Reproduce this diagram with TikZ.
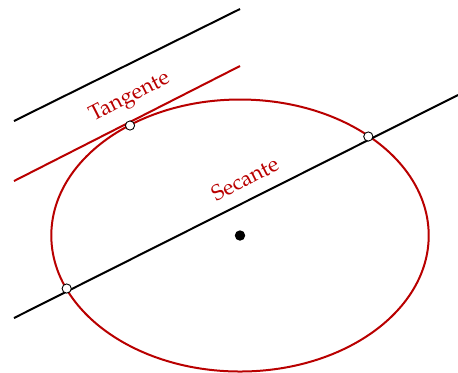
\documentclass[tikz,border=0pt]{standalone}
\usepackage[T1]{fontenc}
\usepackage{mathpazo}
\usepackage{tikz}
\usetikzlibrary{positioning,calc}
\definecolor{curvered}{RGB}{185,0,0}

\begin{document}
\begin{tikzpicture}[x=0.5pt, y=-0.5pt, every node/.style={font=\fontsize{10.8}{13}\selectfont},
    line/.style={line width=1pt},
    cut/.style={circle, draw, fill=white, inner sep=0pt, minimum size=4.6pt, line width=0.45pt},
    label/.style={text=curvered, rotate=27, inner sep=1pt}]
  \useasboundingbox (0,0) rectangle (458,372);
  \coordinate (c) at (240,235.5);
  \coordinate (outA) at (14,121);
  \coordinate (outB) at (240,9);
  \coordinate (tanA) at (14,181);
  \coordinate (tanB) at (240,66);
  \coordinate (secA) at (14,318);
  \coordinate (secB) at (458,95);
  \draw[line, curvered] (c) ellipse [x radius=188.7, y radius=136];
  \draw[line] (outA) -- (outB);
  \draw[line, curvered] (tanA) -- (tanB);
  \draw[line] (secA) -- (secB);
  \fill (c) circle (2.6pt);
  \node[cut] (t) at (130,125.5) {};
  \node[cut] (s1) at (66.7,288.5) {};
  \node[cut] (s2) at (368.3,136.5) {};
  \node[label] (tlabel) at (130,98) {Tangente};
  \node[label] (slabel) at (245,179) {Secante};
\end{tikzpicture}
\end{document}
